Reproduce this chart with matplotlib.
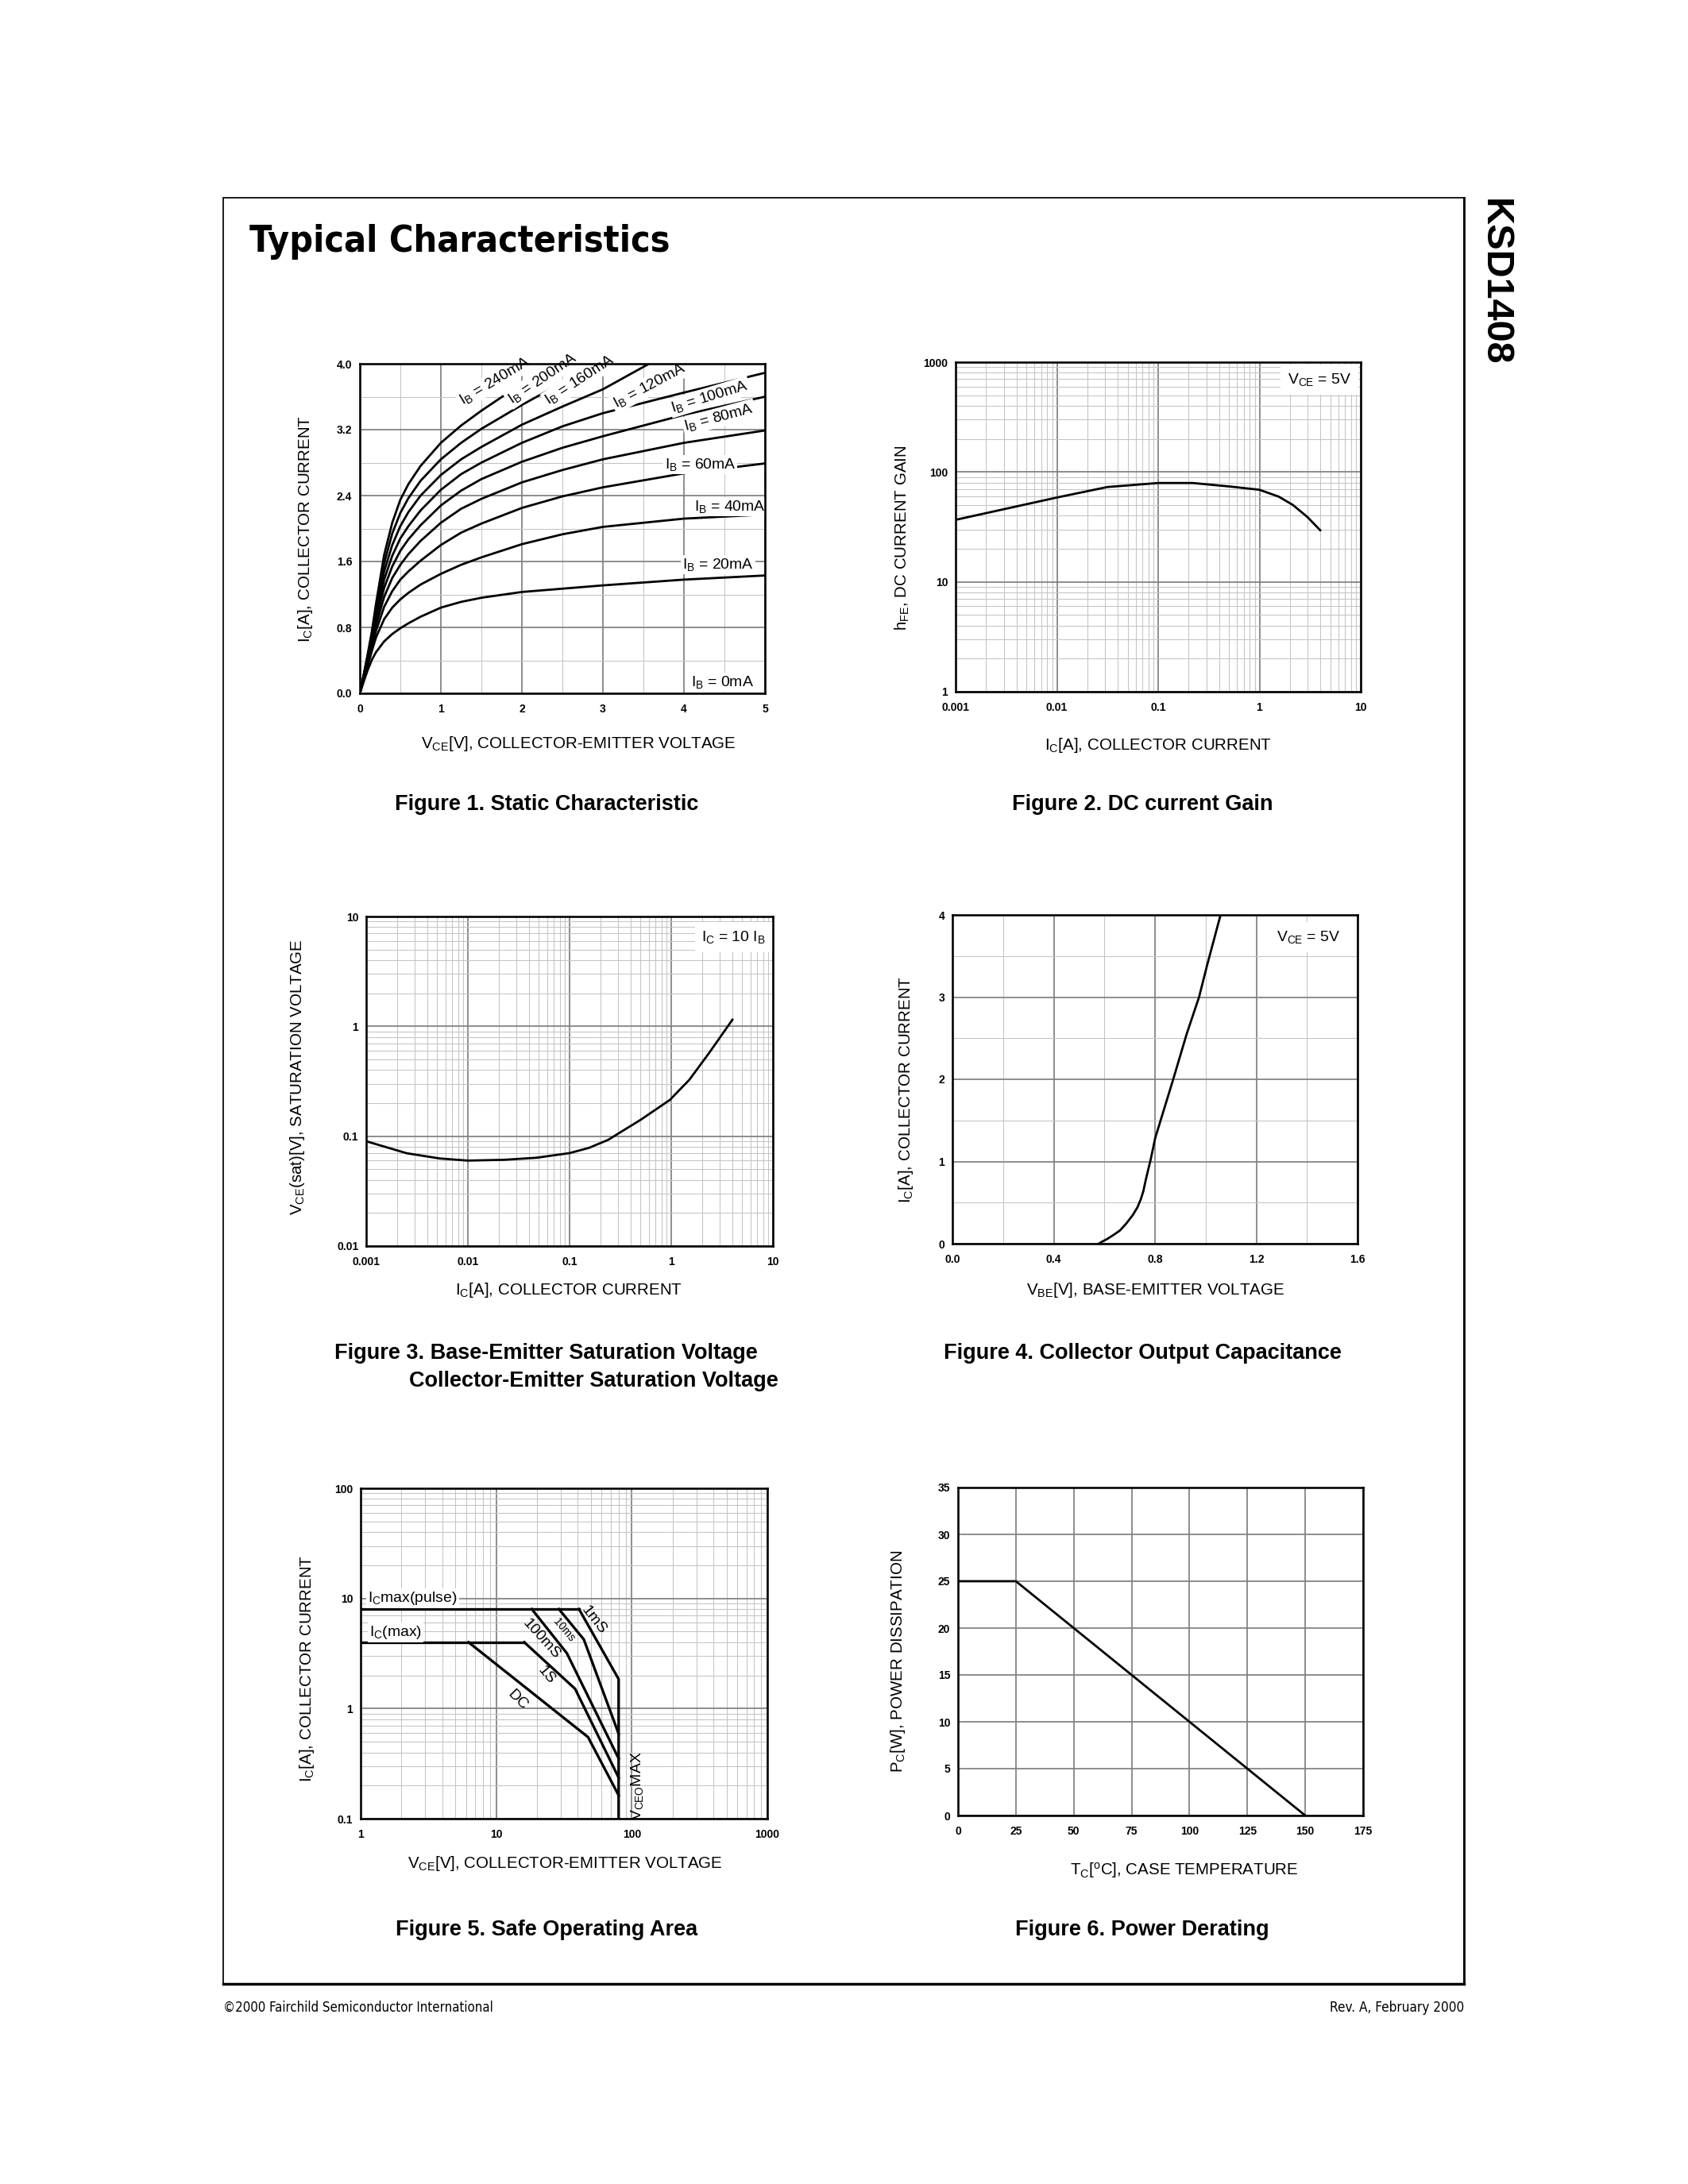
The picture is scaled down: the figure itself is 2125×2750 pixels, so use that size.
# KSD1408 datasheet page - Typical Characteristics

import numpy as np
import matplotlib.pyplot as plt
from matplotlib import font_manager
from matplotlib.ticker import FixedLocator, MultipleLocator, LogLocator, NullFormatter
from matplotlib.patches import Rectangle
from matplotlib.lines import Line2D

W, H, DPI = 2125, 2750, 250

plt.rcParams['font.family'] = ['Liberation Sans', 'DejaVu Sans']
plt.rcParams['mathtext.fontset'] = 'custom'
plt.rcParams['mathtext.rm'] = 'Liberation Sans'
plt.rcParams['mathtext.default'] = 'regular'


# look for a narrow / condensed sans face for the title and footer
def condensed_font():
    for f in font_manager.fontManager.ttflist:
        tag = (f.name + ' ' + f.fname).lower()
        if ('narrow' in tag or 'condensed' in tag) and 'sans' in tag and 'mono' not in tag:
            return dict(family=f.name, stretch=f.stretch)
    return dict(family='Liberation Sans')


NARROW = condensed_font()

# ---------------- data ----------------
# Figure 1: static characteristic, Ic vs Vce for several Ib
vce_grid = [0, 0.05, 0.1, 0.15, 0.2, 0.3, 0.4, 0.5, 0.6, 0.75, 1, 1.25, 1.5, 2, 2.5, 3, 4, 5]
ic_20 = [0, .15, .29, .41, .50, .63, .72, .79, .85, .93, 1.04, 1.11, 1.16, 1.23, 1.27, 1.31, 1.38, 1.43]
ic_40 = [0, .17, .34, .52, .68, .90, 1.04, 1.14, 1.22, 1.32, 1.45, 1.56, 1.65, 1.81, 1.93, 2.02, 2.12, 2.17]
ic_60 = [0, .18, .37, .57, .76, 1.05, 1.24, 1.38, 1.48, 1.61, 1.80, 1.95, 2.06, 2.25, 2.39, 2.50, 2.67, 2.79]
ic_80 = [0, .19, .39, .61, .83, 1.17, 1.40, 1.56, 1.69, 1.85, 2.07, 2.24, 2.36, 2.56, 2.71, 2.84, 3.04, 3.19]
ic_100 = [0, .20, .41, .64, .89, 1.28, 1.54, 1.73, 1.87, 2.04, 2.28, 2.46, 2.60, 2.81, 2.98, 3.12, 3.38, 3.60]
ic_120 = [0, .21, .43, .67, .94, 1.38, 1.67, 1.88, 2.03, 2.22, 2.47, 2.66, 2.80, 3.04, 3.24, 3.40, 3.65, 3.89]
vce_160 = [0, 0.05, 0.1, 0.15, 0.2, 0.3, 0.4, 0.5, 0.6, 0.75, 1, 1.25, 1.5, 2, 2.5, 3, 3.57]
ic_160 = [0, .22, .45, .70, .99, 1.48, 1.80, 2.03, 2.20, 2.40, 2.65, 2.84, 2.99, 3.26, 3.48, 3.69, 4.0]
vce_200 = [0, 0.05, 0.1, 0.15, 0.2, 0.3, 0.4, 0.5, 0.6, 0.75, 1, 1.25, 1.5, 2, 2.5, 2.9]
ic_200 = [0, .23, .47, .73, 1.04, 1.58, 1.94, 2.19, 2.37, 2.58, 2.84, 3.04, 3.21, 3.50, 3.77, 4.0]
vce_240 = [0, 0.05, 0.1, 0.15, 0.2, 0.3, 0.4, 0.5, 0.6, 0.75, 1, 1.25, 1.5, 2, 2.35]
ic_240 = [0, .24, .49, .76, 1.09, 1.68, 2.07, 2.35, 2.54, 2.76, 3.04, 3.25, 3.43, 3.76, 4.0]

# Figure 2: DC current gain
ic_gain = [0.001, 0.01, 0.0315, 0.1, 0.22, 0.51, 1.0, 1.55, 2.14, 2.98, 3.98]
hfe = [36.7, 58.6, 73, 79.4, 79.4, 73.8, 68.9, 59.7, 50.1, 38.9, 29.5]

# Figure 3: saturation voltage
ic_sat = [0.001, 0.0025, 0.0053, 0.01, 0.0228, 0.0475, 0.1, 0.155, 0.24, 0.3,
          0.5, 0.97, 1.51, 2.35, 4.0]
vce_sat = [0.090, 0.070, 0.0627, 0.060, 0.061, 0.0637, 0.0702, 0.0783, 0.0927,
           0.1054, 0.141, 0.214, 0.327, 0.570, 1.15]

# Figure 4: Ic vs Vbe
vbe = [0.578, 0.590, 0.610, 0.635, 0.661, 0.686, 0.712, 0.731, 0.744, 0.754, 0.763,
       0.773, 0.782, 0.801, 0.872, 0.925, 0.974, 1.006, 1.059]
ic_vbe = [0, 0.023, 0.055, 0.104, 0.159, 0.243, 0.347, 0.444, 0.541, 0.639, 0.768,
          0.898, 1.011, 1.287, 2.0, 2.55, 3.0, 3.39, 4.0]

# Figure 5: safe operating area
soa_pulse_v = [1, 40.8]
soa_pulse_i = [8, 8]
soa_1ms_v = [40.8, 80, 80]
soa_1ms_i = [8, 1.85, 0.1]
soa_10ms_v = [29, 44.3, 80]
soa_10ms_i = [8, 4.24, 0.59]
soa_100ms_v = [18.3, 33.2, 80]
soa_100ms_i = [8, 3.18, 0.352]
soa_icmax_v = [1, 16.1]
soa_icmax_i = [4, 4]
soa_1s_v = [16.1, 38.2, 80]
soa_1s_i = [4, 1.51, 0.236]
soa_dc_v = [6.25, 47.6, 80]
soa_dc_i = [4, 0.55, 0.163]

# Figure 6: power derating
tc = [0, 25, 150]
pc = [25, 25, 0]

# tick labels
f1_xt = [0, 1, 2, 3, 4, 5]
f1_xl = ['0', '1', '2', '3', '4', '5']
f1_yt = [0, 0.8, 1.6, 2.4, 3.2, 4.0]
f1_yl = ['0.0', '0.8', '1.6', '2.4', '3.2', '4.0']
dec_x = [0.001, 0.01, 0.1, 1, 10]
dec_xl = ['0.001', '0.01', '0.1', '1', '10']
f2_yt = [1, 10, 100, 1000]
f2_yl = ['1', '10', '100', '1000']
f3_yt = [0.01, 0.1, 1, 10]
f3_yl = ['0.01', '0.1', '1', '10']
f4_xt = [0, 0.4, 0.8, 1.2, 1.6]
f4_xl = ['0.0', '0.4', '0.8', '1.2', '1.6']
f4_yt = [0, 1, 2, 3, 4]
f4_yl = ['0', '1', '2', '3', '4']
f5_xt = [1, 10, 100, 1000]
f5_xl = ['1', '10', '100', '1000']
f5_yt = [0.1, 1, 10, 100]
f5_yl = ['0.1', '1', '10', '100']
f6_xt = [0, 25, 50, 75, 100, 125, 150, 175]
f6_xl = [str(v) for v in f6_xt]
f6_yt = [0, 5, 10, 15, 20, 25, 30, 35]
f6_yl = [str(v) for v in f6_yt]

# ---------------- styling ----------------
MAJ = dict(color='#808080', linewidth=0.5)
MIN = dict(color='#c4c4c4', linewidth=0.3)
CURVE = dict(color='black', linewidth=0.8, zorder=3)
LABEL_FS = 5.9
TICK_FS = 4.0
WHITE = dict(facecolor='white', edgecolor='none', pad=0.6)

fig = plt.figure(figsize=(W / DPI, H / DPI), dpi=DPI)


def fx(x):
    return x / W


def fy(y):
    return 1 - y / H


def make_ax(l, t, r, b):
    ax = fig.add_axes([fx(l), fy(b), (r - l) / W, (b - t) / H])
    for s in ax.spines.values():
        s.set_linewidth(0.75)
        s.set_zorder(5)
    ax.set_axisbelow(True)
    ax.tick_params(which='both', length=0)
    ax.tick_params(axis='y', pad=2.8)
    ax.tick_params(axis='x', pad=3.8)
    return ax


def set_ticks(ax, xt, xl, yt, yl):
    ax.xaxis.set_major_locator(FixedLocator(xt))
    ax.yaxis.set_major_locator(FixedLocator(yt))
    ax.set_xticklabels(xl, fontsize=TICK_FS, fontweight='bold')
    ax.set_yticklabels(yl, fontsize=TICK_FS, fontweight='bold')
    ax.xaxis.set_minor_formatter(NullFormatter())
    ax.yaxis.set_minor_formatter(NullFormatter())


def log_grid(ax):
    ax.xaxis.set_minor_locator(LogLocator(base=10, subs=np.arange(2, 10), numticks=20))
    ax.yaxis.set_minor_locator(LogLocator(base=10, subs=np.arange(2, 10), numticks=20))
    ax.grid(True, which='minor', **MIN)
    ax.grid(True, which='major', **MAJ)


def ftext(x, y, s, **kw):
    return fig.text(fx(x), fy(y), s, **kw)


def fit_width(t, width_px):
    # scale a text's font size so it spans the given width in pixels
    r = fig.canvas.get_renderer()
    w = t.get_window_extent(renderer=r).width
    t.set_fontsize(t.get_fontsize() * width_px / w)


# ---------------- Figure 1 ----------------
ax1 = make_ax(453, 458, 963, 873)
ax1.set_xlim(0, 5)
ax1.set_ylim(0, 4)
set_ticks(ax1, f1_xt, f1_xl, f1_yt, f1_yl)
ax1.xaxis.set_minor_locator(MultipleLocator(0.5))
ax1.yaxis.set_minor_locator(MultipleLocator(0.4))
ax1.grid(True, which='minor', **MIN)
ax1.grid(True, which='major', **MAJ)
for ic in [ic_20, ic_40, ic_60, ic_80, ic_100, ic_120]:
    ax1.plot(vce_grid, ic, **CURVE)
ax1.plot(vce_160, ic_160, **CURVE)
ax1.plot(vce_200, ic_200, **CURVE)
ax1.plot(vce_240, ic_240, **CURVE)

ib_labels = [('240', 1.27, 3.50, 31), ('200', 1.87, 3.51, 34), ('160', 2.33, 3.50, 33),
             ('120', 3.16, 3.46, 28), ('100', 3.86, 3.41, 17), ('80', 4.02, 3.19, 15),
             ('60', 3.76, 2.73, 0), ('40', 4.13, 2.22, 0), ('20', 3.98, 1.51, 0),
             ('0', 4.09, 0.085, 0)]
for ib, x, y, rot in ib_labels:
    ax1.text(x, y, r'I$_{B}$ = %smA' % ib, fontsize=5.6, rotation=rot,
             rotation_mode='anchor', ha='left', va='baseline', zorder=4, bbox=WHITE)

# ---------------- Figure 2 ----------------
ax2 = make_ax(1203, 456, 1713, 871)
ax2.set_xscale('log')
ax2.set_yscale('log')
ax2.set_xlim(0.001, 10)
ax2.set_ylim(1, 1000)
set_ticks(ax2, dec_x, dec_xl, f2_yt, f2_yl)
log_grid(ax2)
ax2.plot(ic_gain, hfe, **CURVE)
ax2.text(0.82, 0.935, r'V$_{CE}$ = 5V', transform=ax2.transAxes, fontsize=5.6,
         ha='left', va='baseline', zorder=4,
         bbox=dict(facecolor='white', edgecolor='none', pad=2.5))

# ---------------- Figure 3 ----------------
ax3 = make_ax(461, 1154, 973, 1569)
ax3.set_xscale('log')
ax3.set_yscale('log')
ax3.set_xlim(0.001, 10)
ax3.set_ylim(0.01, 10)
set_ticks(ax3, dec_x, dec_xl, f3_yt, f3_yl)
log_grid(ax3)
ax3.plot(ic_sat, vce_sat, **CURVE)
ax3.text(0.825, 0.925, r'I$_{C}$ = 10 I$_{B}$', transform=ax3.transAxes, fontsize=5.6,
         ha='left', va='baseline', zorder=4,
         bbox=dict(facecolor='white', edgecolor='none', pad=2.5))

# ---------------- Figure 4 ----------------
ax4 = make_ax(1199, 1152, 1709, 1566)
ax4.set_xlim(0, 1.6)
ax4.set_ylim(0, 4)
set_ticks(ax4, f4_xt, f4_xl, f4_yt, f4_yl)
ax4.xaxis.set_minor_locator(MultipleLocator(0.2))
ax4.yaxis.set_minor_locator(MultipleLocator(0.5))
ax4.grid(True, which='minor', **MIN)
ax4.grid(True, which='major', **MAJ)
ax4.plot(vbe, ic_vbe, **CURVE)
ax4.text(0.80, 0.92, r'V$_{CE}$ = 5V', transform=ax4.transAxes, fontsize=5.6,
         ha='left', va='baseline', zorder=4,
         bbox=dict(facecolor='white', edgecolor='none', pad=2.5))

# ---------------- Figure 5 ----------------
ax5 = make_ax(454, 1874, 966, 2290)
ax5.set_xscale('log')
ax5.set_yscale('log')
ax5.set_xlim(1, 1000)
ax5.set_ylim(0.1, 100)
set_ticks(ax5, f5_xt, f5_xl, f5_yt, f5_yl)
log_grid(ax5)
SOA = dict(color='black', linewidth=0.95, zorder=3, solid_joinstyle='miter')
ax5.plot(soa_pulse_v, soa_pulse_i, **SOA)
ax5.plot(soa_1ms_v, soa_1ms_i, **SOA)
ax5.plot(soa_10ms_v, soa_10ms_i, **SOA)
ax5.plot(soa_100ms_v, soa_100ms_i, **SOA)
ax5.plot(soa_icmax_v, soa_icmax_i, **SOA)
ax5.plot(soa_1s_v, soa_1s_i, **SOA)
ax5.plot(soa_dc_v, soa_dc_i, **SOA)
ax5.text(1.13, 10, r'I$_{C}$max(pulse)', fontsize=5.6, ha='left', va='center',
         zorder=4, bbox=WHITE)
ax5.text(1.16, 4.9, r'I$_{C}$(max)', fontsize=5.6, ha='left', va='center',
         zorder=4, bbox=WHITE)
ax5.text(52, 6.4, '1mS', fontsize=5.6, rotation=-52, ha='center', va='center', zorder=4)
ax5.text(31.5, 5.2, '10ms', fontsize=4.0, rotation=-50, ha='center', va='center', zorder=4)
ax5.text(21.6, 4.3, '100mS', fontsize=5.6, rotation=-48, ha='center', va='center', zorder=4)
ax5.text(23.5, 2.0, '1S', fontsize=5.6, rotation=-50, ha='center', va='center', zorder=4)
ax5.text(14.3, 1.2, 'DC', fontsize=5.6, rotation=-45, ha='center', va='center', zorder=4)
ax5.text(110, 0.2, r'V$_{CEO}$MAX', fontsize=5.6, rotation=90, ha='center',
         va='center', zorder=4)

# ---------------- Figure 6 ----------------
ax6 = make_ax(1206, 1873, 1716, 2286)
ax6.set_xlim(0, 175)
ax6.set_ylim(0, 35)
set_ticks(ax6, f6_xt, f6_xl, f6_yt, f6_yl)
ax6.grid(True, which='major', **MAJ)
ax6.plot(tc, pc, **CURVE)

# ---------------- axis labels ----------------
LAB = dict(fontsize=LABEL_FS, ha='center', va='center')
ftext(728, 936, r'V$_{CE}$[V], COLLECTOR-EMITTER VOLTAGE', **LAB)
ftext(384, 666, r'I$_{C}$[A], COLLECTOR CURRENT', rotation=90, **LAB)
ftext(1458, 938, r'I$_{C}$[A], COLLECTOR CURRENT', **LAB)
ftext(1136, 677, r'h$_{FE}$, DC CURRENT GAIN', rotation=90, **LAB)
ftext(716, 1624, r'I$_{C}$[A], COLLECTOR CURRENT', **LAB)
ftext(375, 1356, r'V$_{CE}$(sat)[V], SATURATION VOLTAGE', rotation=90, **LAB)
ftext(1455, 1624, r'V$_{BE}$[V], BASE-EMITTER VOLTAGE', **LAB)
ftext(1140, 1372, r'I$_{C}$[A], COLLECTOR CURRENT', rotation=90, **LAB)
ftext(711, 2346, r'V$_{CE}$[V], COLLECTOR-EMITTER VOLTAGE', **LAB)
ftext(386, 2101, r'I$_{C}$[A], COLLECTOR CURRENT', rotation=90, **LAB)
ftext(1491, 2355, r'T$_{C}$[$^{o}$C], CASE TEMPERATURE', **LAB)
ftext(1131, 2092, r'P$_{C}$[W], POWER DISSIPATION', rotation=90, **LAB)

# ---------------- captions ----------------
CAP = dict(fontsize=7.8, fontweight='bold', ha='center', va='center')
ftext(688, 1013, 'Figure 1. Static Characteristic', **CAP)
ftext(1438, 1013, 'Figure 2. DC current Gain', **CAP)
ftext(687, 1704, 'Figure 3. Base-Emitter Saturation Voltage', **CAP)
ftext(515, 1739, 'Collector-Emitter Saturation Voltage', fontsize=7.8,
      fontweight='bold', ha='left', va='center')
ftext(1438, 1704, 'Figure 4. Collector Output Capacitance', **CAP)
ftext(688, 2430, 'Figure 5. Safe Operating Area', **CAP)
ftext(1438, 2430, 'Figure 6. Power Derating', **CAP)

# ---------------- page frame, title, footer ----------------
fig.patches.append(Rectangle((fx(281), fy(2498)), (1843 - 281) / W, (2498 - 249) / H,
                             transform=fig.transFigure, fill=False,
                             edgecolor='black', linewidth=0.5))
fig.lines.append(Line2D([fx(281), fx(1843)], [fy(2498), fy(2498)],
                        transform=fig.transFigure, color='black', linewidth=1.0))
fig.lines.append(Line2D([fx(1843), fx(1843)], [fy(249), fy(2498)],
                        transform=fig.transFigure, color='black', linewidth=0.8))

title = ftext(314, 317, 'Typical Characteristics', fontsize=16, fontweight='bold',
              ha='left', va='baseline', **NARROW)
fit_width(title, 529)
ftext(1881, 250, 'KSD1408', fontsize=14, fontweight='bold', rotation=-90,
      ha='center', va='top')
foot_l = ftext(281, 2528, '\u00a92000 Fairchild Semiconductor International',
               fontsize=5.8, ha='left', va='center', **NARROW)
fit_width(foot_l, 340)
foot_r = ftext(1843, 2528, 'Rev. A, February 2000', fontsize=5.8,
               ha='right', va='center', **NARROW)
fit_width(foot_r, 170)

fig.savefig('out.png', dpi=DPI, facecolor='white')
